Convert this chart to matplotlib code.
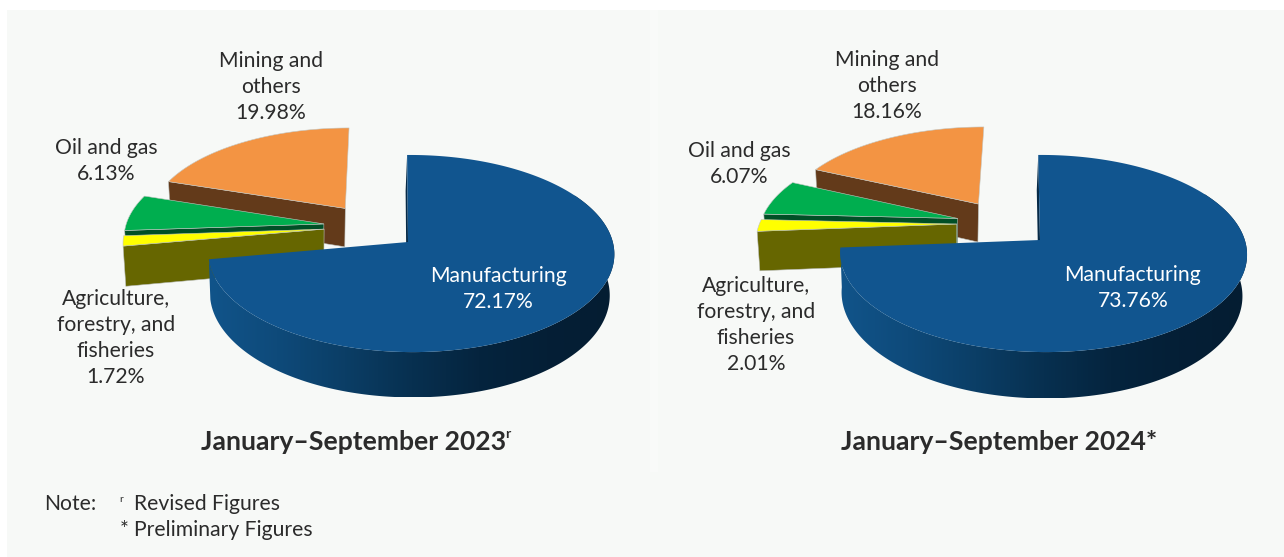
import numpy as np
import matplotlib
matplotlib.use('Agg')
import matplotlib.pyplot as plt
from matplotlib.colors import LinearSegmentedColormap
from matplotlib.patches import Polygon, Rectangle

plt.rcParams['font.family'] = ['Lato', 'DejaVu Sans']

sectors = ['Manufacturing', 'Agriculture,\nforestry, and\nfisheries', 'Oil and gas', 'Mining and\nothers']
shares_2023 = [72.17, 1.72, 6.13, 19.98]
shares_2024 = [73.76, 2.01, 6.07, 18.16]

top_colors = ['#11558f', '#ffff00', '#00ae4f', '#f39443']
wall_colors = ['#062a47', '#666600', '#004f26', '#633a1a']
side_cmap = LinearSegmentedColormap.from_list(
    'side', ['#11548a', '#0e4a7a', '#0b3e66', '#073050', '#05243e', '#041f36', '#041d32'])

INK = '#2b2b2b'
DEPTH = 40.0
FONT = 15.2


class Camera:
    # small perspective model: disc coordinates u (right), v (away from viewer)
    def __init__(self, cx, cy, radius, tilt, k, m, skew):
        self.cx, self.cy, self.radius, self.tilt = cx, cy, radius, tilt
        self.k, self.m, self.skew = k, m, skew

    def top(self, u, v):
        s = 1 / (1 + self.k * v - self.m * u)
        return self.cx + (self.radius * u + self.skew * v) * s, self.cy - self.tilt * v * s

    def bottom(self, u, v):
        x, y = self.top(u, v)
        s = 1 / (1 + self.k * v - self.m * u)
        vanish = self.cx - 100
        return vanish + (x - vanish) * 0.985, y + DEPTH * s


def arc(a0, a1, off):
    t = np.radians(np.linspace(a0, a1, max(int(abs(a1 - a0)) * 2, 6)))
    return np.sin(t) + off[0], np.cos(t) + off[1]


def draw_slice(ax, cam, a0, a1, off, idx):
    # flat wedge plus the radial wall on its start edge, which faces the viewer
    u0, v0 = off
    us = np.sin(np.radians(a0)) + u0
    vs = np.cos(np.radians(a0)) + v0
    xa, ya = cam.top(u0, v0)
    xs, ys = cam.top(us, vs)
    xa2, ya2 = cam.bottom(u0, v0)
    xs2, ys2 = cam.bottom(us, vs)
    ax.add_patch(Polygon([(xa, ya), (xs, ys), (xs2, ys2), (xa2, ya2)],
                         fc=wall_colors[idx], ec='#b9bdb9', lw=0.4, zorder=2))
    ua, va = arc(a0, a1, off)
    x, y = cam.top(ua, va)
    pts = np.r_[[[xa, ya]], np.c_[x, y]]
    ax.add_patch(Polygon(pts, fc=top_colors[idx], ec='#c4c8c4', lw=0.4, zorder=2))


def draw_main(ax, cam, a1):
    # big slice: shaded side band, inner wall at 12 o'clock, then top face
    xa, ya = cam.top(0, 0)
    xt, yt = cam.top(0, 1)
    xa2, ya2 = cam.bottom(0, 0)
    xt2, yt2 = cam.bottom(0, 1)
    ax.add_patch(Polygon([(xt, yt), (xt2, yt2), (xa2, ya2), (xa, ya)],
                         fc=wall_colors[0], ec='none', zorder=3))

    ua, va = arc(60, a1, (0, 0))
    xt_, yt_ = cam.top(ua, va)
    xb_, yb_ = cam.bottom(ua, va)
    band = np.r_[np.c_[xt_, yt_], np.c_[xb_, yb_][::-1]]
    shade = ax.imshow(np.linspace(0, 1, 256)[None, :], cmap=side_cmap, aspect='auto', zorder=3,
                      extent=(xt_.min(), xt_.max(), yb_.max(), yt_.min()))
    shade.set_clip_path(Polygon(band, transform=ax.transData))
    ax.plot(xb_[:30] + 0.6, yb_[:30], color='#b9bdb9', lw=0.7, zorder=3)

    ua, va = arc(0, a1, (0, 0))
    x, y = cam.top(ua, va)
    pts = np.r_[[[xa, ya]], np.c_[x, y]]
    ax.add_patch(Polygon(pts, fc=top_colors[0], ec='none', zorder=4))


def draw_pie(ax, cam, cam_out, shares, offsets):
    edges = np.cumsum([0] + list(shares)) / sum(shares) * 360
    # far slices first so nearer ones cover them
    for idx in [3, 2, 1]:
        draw_slice(ax, cam_out, edges[idx], edges[idx + 1], offsets[idx - 1], idx)
    draw_main(ax, cam, edges[1])


fig = plt.figure(figsize=(12.84, 5.57), dpi=100, facecolor='white')
ax = fig.add_axes([0, 0, 1, 1])

ax.add_patch(Rectangle((7, 10), 1277, 547, fc='#f7f9f7', ec='none', zorder=0))
ax.add_patch(Rectangle((650, 10), 8, 462, fc='#f9faf9', ec='none', zorder=0))

cam_2023 = Camera(408, 242, 201.5, 97.2, 0.117, 0.016, -1.0)
cam_2024 = Camera(1040, 240, 201.5, 96.7, 0.137, 0.016, -2.0)
# pulled-out slices sit further left, so they get no sideways perspective term
out_2023 = Camera(408, 242, 202, 97.2, 0.117, 0.0, -3.0)
out_2024 = Camera(1040, 240, 202, 96.7, 0.137, 0.0, -2.0)

# agriculture, oil and gas, mining: how far each slice is pulled out of the disc
draw_pie(ax, cam_2023, out_2023, shares_2023, [(-0.42, 0.135), (-0.423, 0.19), (-0.318, 0.36)])
draw_pie(ax, cam_2024, out_2024, shares_2024, [(-0.42, 0.169), (-0.418, 0.23), (-0.317, 0.392)])

ax.set_xlim(0, 1284)
ax.set_ylim(557, 0)
ax.axis('off')


def label(x, y, name, value, color=INK):
    ax.text(x, y, f'{name}\n{value:.2f}%', color=color, fontsize=FONT, ha='center', va='center',
            linespacing=1.38, zorder=6)


label(498, 289, sectors[0], shares_2023[0], 'white')
label(116, 338, sectors[1], shares_2023[1])
label(106, 161, sectors[2], shares_2023[2])
label(271, 87, sectors[3], shares_2023[3])

label(1133, 288, sectors[0], shares_2024[0], 'white')
label(756, 325, sectors[1], shares_2024[1])
label(739, 164, sectors[2], shares_2024[2])
label(887, 86, sectors[3], shares_2024[3])

ax.text(201, 442, 'January–September 2023', color=INK, fontsize=19.1, fontweight='bold', va='center', zorder=6)
ax.text(505, 434, 'r', color=INK, fontsize=10, fontweight='bold', va='center', zorder=6)
ax.text(841, 442, 'January–September 2024*', color=INK, fontsize=19.1, fontweight='bold', va='center', zorder=6)

ax.text(44, 504, 'Note:', color=INK, fontsize=FONT, va='center')
ax.text(119, 499, 'r', color=INK, fontsize=7.5, va='center')
ax.text(134, 504, 'Revised Figures', color=INK, fontsize=FONT, va='center')
ax.text(120, 530, '*', color=INK, fontsize=FONT, va='center')
ax.text(134, 530, 'Preliminary Figures', color=INK, fontsize=FONT, va='center')

fig.savefig('out.png', dpi=100)
